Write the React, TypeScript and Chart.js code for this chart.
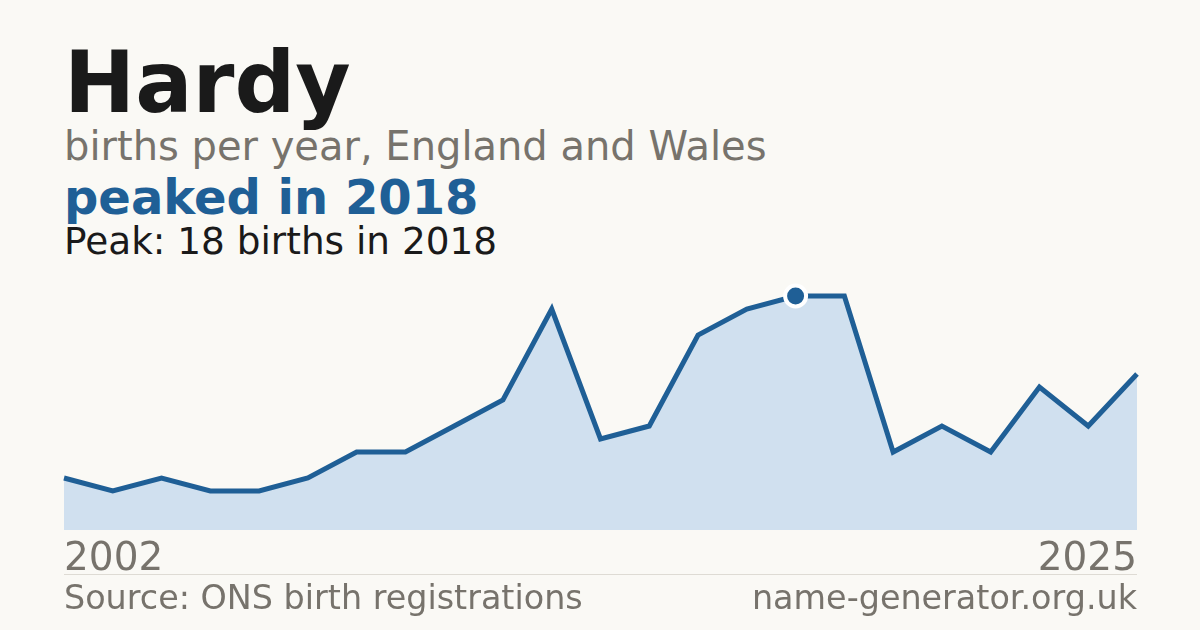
import React, { useEffect, useRef } from 'react';
import { Chart, registerables } from 'chart.js';

Chart.register(...registerables);

// births per year for "Hardy" (23 points)
const years = [
  '2002', '2003', '2004', '2005', '2006', '2007', '2008', '2009', '2010', '2011', '2012',
  '2013', '2014', '2015', '2016', '2018', '2019', '2020', '2021', '2022', '2023', '2024', '2025',
];
const births = [4, 3, 4, 3, 3, 4, 6, 6, 8, 10, 17, 7, 8, 15, 17, 18, 18, 6, 8, 6, 11, 8, 12];

const BG = '#faf9f5';
const BLUE = '#1f5f96';
const FILL = '#d0e0ef';
const GREY = '#77736c';
const FONT = '"DejaVu Sans", Verdana, sans-serif';

const peakIndex = births.indexOf(Math.max(...births));

const BirthsChart: React.FC = () => {
  const canvasRef = useRef<HTMLCanvasElement | null>(null);
  const chartRef = useRef<Chart | null>(null);

  useEffect(() => {
    if (!canvasRef.current) return;
    const ctx = canvasRef.current.getContext('2d');
    if (!ctx) return;

    chartRef.current = new Chart(ctx, {
      type: 'line',
      data: {
        labels: years,
        datasets: [
          {
            data: births,
            borderColor: BLUE,
            backgroundColor: FILL,
            borderWidth: 5,
            fill: 'origin',
            tension: 0,
            clip: false,
            pointRadius: births.map((_, i) => (i === peakIndex ? 10.5 : 0)),
            pointBackgroundColor: BLUE,
            pointBorderColor: '#ffffff',
            pointBorderWidth: 4,
          },
        ],
      },
      options: {
        responsive: false,
        animation: false,
        layout: { padding: { left: 10, right: 10, top: 16, bottom: 10 } },
        plugins: { legend: { display: false }, tooltip: { enabled: false } },
        scales: {
          x: { display: false, offset: false },
          y: { display: false, min: 0, max: 18 },
        },
      },
    });

    return () => {
      chartRef.current?.destroy();
      chartRef.current = null;
    };
  }, []);

  return (
    <canvas
      ref={canvasRef}
      width={1093}
      height={260}
      style={{ position: 'absolute', left: 54, top: 280, width: 1093, height: 260 }}
    />
  );
};

const text = (top: number, size: number, color: string, bold = false): React.CSSProperties => ({
  position: 'absolute',
  top,
  fontSize: size,
  lineHeight: 1,
  color,
  fontWeight: bold ? 700 : 400,
  whiteSpace: 'nowrap',
});

export default function App() {
  return (
    <div
      style={{
        position: 'fixed',
        left: 0,
        top: 0,
        width: 1200,
        height: 630,
        background: BG,
        fontFamily: FONT,
        overflow: 'hidden',
      }}
    >
      <div style={{ ...text(40, 85, '#1a1a1a', true), left: 64 }}>Hardy</div>
      <div style={{ ...text(126, 40, GREY), left: 64 }}>births per year, England and Wales</div>
      <div style={{ ...text(173, 48, BLUE, true), left: 64 }}>peaked in {years[peakIndex]}</div>
      <div style={{ ...text(222.5, 37.4, '#1a1a1a'), left: 64 }}>
        Peak: {births[peakIndex]} births in {years[peakIndex]}
      </div>

      <BirthsChart />

      <div style={{ ...text(537, 39, GREY), left: 64 }}>{years[0]}</div>
      <div style={{ ...text(537, 39, GREY), right: 63 }}>{years[years.length - 1]}</div>
      <div
        style={{ position: 'absolute', left: 64, width: 1073, top: 574, height: 1, background: '#dedbd4' }}
      />
      <div style={{ ...text(581, 33.4, GREY), left: 64 }}>Source: ONS birth registrations</div>
      <div style={{ ...text(581, 33.4, GREY), right: 63 }}>name-generator.org.uk</div>
    </div>
  );
}
